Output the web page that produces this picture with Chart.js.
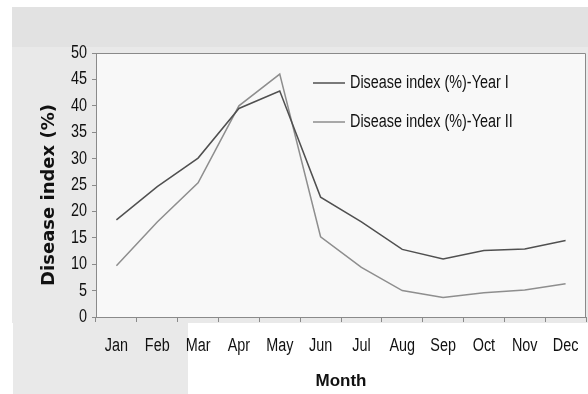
<!DOCTYPE html>
<html>
<head>
<meta charset="utf-8">
<script src="https://cdn.jsdelivr.net/npm/chart.js@4.4.0/dist/chart.umd.min.js"></script>
<style>
  html, body { margin: 0; padding: 0; background: #ffffff; }
  #wrap { width: 588px; height: 394px; position: relative; }
</style>
</head>
<body>
<div id="wrap"><canvas id="diseaseChart" width="588" height="394"></canvas></div>
<script>
// Datos
const months = ['Jan', 'Feb', 'Mar', 'Apr', 'May', 'Jun', 'Jul', 'Aug', 'Sep', 'Oct', 'Nov', 'Dec'];
const yearOne = [18.4, 24.7, 30.1, 39.5, 42.8, 22.7, 18.0, 12.8, 11.0, 12.6, 12.9, 14.5];
const yearTwo = [9.7, 18.0, 25.4, 40.0, 46.0, 15.2, 9.4, 5.0, 3.7, 4.6, 5.1, 6.3];
const seriesLabels = ['Disease index (%)-Year I', 'Disease index (%)-Year II'];
const yTicks = [0, 5, 10, 15, 20, 25, 30, 35, 40, 45, 50];
const yTitle = 'Disease index (%)';
const xTitle = 'Month';

const sans = "'Liberation Sans', Arial, sans-serif";
const squeeze = 0.8; // no hay fuente "narrow", se comprime el texto a mano
const ink = '#111111';

function narrowText(ctx, text, x, y, align) {
    ctx.save();
    ctx.translate(x, y);
    ctx.scale(squeeze, 1);
    ctx.textAlign = align;
    ctx.fillText(text, 0, 0);
    ctx.restore();
}

// Fondo tipo escaneo
const backgroundPlugin = {
    id: 'scanBackground',
    beforeDraw(chart) {
        const ctx = chart.ctx;
        const a = chart.chartArea;
        ctx.save();
        ctx.fillStyle = '#ffffff';
        ctx.fillRect(0, 0, chart.width, chart.height);
        ctx.fillStyle = '#e9e9e9';
        ctx.fillRect(12, 7, chart.width - 12, a.bottom + 6 - 7);
        ctx.fillRect(13, a.bottom + 6, 175, chart.height - a.bottom - 6);
        ctx.fillStyle = '#e2e2e2';
        ctx.fillRect(12, 7, chart.width - 12, 40);
        ctx.fillStyle = '#f8f8f8';
        ctx.fillRect(a.left, a.top, a.right - a.left, a.bottom - a.top);
        ctx.restore();
    },
    afterDraw(chart) {
        const ctx = chart.ctx;
        const a = chart.chartArea;
        ctx.save();
        // borde superior y derecho
        ctx.strokeStyle = '#8a8a8a';
        ctx.lineWidth = 1;
        ctx.beginPath();
        ctx.moveTo(a.left, a.top + 0.5);
        ctx.lineTo(a.right - 0.5, a.top + 0.5);
        ctx.lineTo(a.right - 0.5, a.bottom);
        ctx.stroke();

        // etiquetas de los ejes, comprimidas
        ctx.fillStyle = ink;
        ctx.font = '18px ' + sans;
        ctx.textBaseline = 'middle';
        const xs = chart.scales.x;
        xs.ticks.forEach((t, i) => {
            narrowText(ctx, xs.getLabelForValue(t.value), xs.getPixelForTick(i), a.bottom + 29, 'center');
        });
        const ys = chart.scales.y;
        ys.ticks.forEach((t) => {
            narrowText(ctx, String(t.value), ys.left + 87, ys.getPixelForValue(t.value), 'right');
        });

        // título del eje Y
        ctx.save();
        ctx.translate(49, 195);
        ctx.rotate(-Math.PI / 2);
        ctx.textAlign = 'center';
        ctx.font = "bold 18px 'DejaVu Sans', sans-serif";
        ctx.fillText(yTitle, 0, 0);
        ctx.restore();
        ctx.restore();
    }
};

// Leyenda dentro del área de la gráfica
const innerLegend = {
    id: 'innerLegend',
    afterDatasetsDraw(chart) {
        const ctx = chart.ctx;
        const a = chart.chartArea;
        ctx.save();
        ctx.font = '18px ' + sans;
        ctx.textBaseline = 'middle';
        chart.data.datasets.forEach((ds, i) => {
            const y = a.top + 30 + i * 39;
            ctx.strokeStyle = ds.borderColor;
            ctx.lineWidth = 1.5;
            ctx.beginPath();
            ctx.moveTo(a.left + 217, y);
            ctx.lineTo(a.left + 249, y);
            ctx.stroke();
            ctx.fillStyle = ink;
            narrowText(ctx, ds.label, a.left + 254, y, 'left');
        });
        ctx.restore();
    }
};

new Chart(document.getElementById('diseaseChart'), {
    type: 'line',
    data: {
        labels: months,
        datasets: [
            {
                label: seriesLabels[0],
                data: yearOne,
                borderColor: '#505050',
                borderWidth: 1.5,
                pointRadius: 0,
                tension: 0,
                fill: false
            },
            {
                label: seriesLabels[1],
                data: yearTwo,
                borderColor: '#8e8e8e',
                borderWidth: 1.5,
                pointRadius: 0,
                tension: 0,
                fill: false
            }
        ]
    },
    options: {
        responsive: false,
        animation: false,
        layout: {
            padding: { top: 53, right: 2, left: 0, bottom: 0 }
        },
        plugins: {
            legend: { display: false },
            tooltip: { enabled: false }
        },
        scales: {
            x: {
                offset: true,
                grid: {
                    offset: true,
                    drawOnChartArea: false,
                    tickLength: 5,
                    color: '#8a8a8a'
                },
                border: { color: '#8a8a8a' },
                ticks: { display: false },
                title: {
                    display: true,
                    text: xTitle,
                    color: ink,
                    padding: { top: 0, bottom: 2 },
                    font: { family: sans, size: 17, weight: 'bold' }
                },
                afterFit(scale) { scale.height = 77; }
            },
            y: {
                min: 0,
                max: 50,
                afterBuildTicks(scale) {
                    scale.ticks = yTicks.map(v => ({ value: v }));
                },
                grid: {
                    drawOnChartArea: false,
                    tickLength: 4,
                    color: '#8a8a8a'
                },
                border: { color: '#8a8a8a' },
                ticks: { display: false },
                afterFit(scale) { scale.width = 96; }
            }
        }
    },
    plugins: [backgroundPlugin, innerLegend]
});
</script>
</body>
</html>
